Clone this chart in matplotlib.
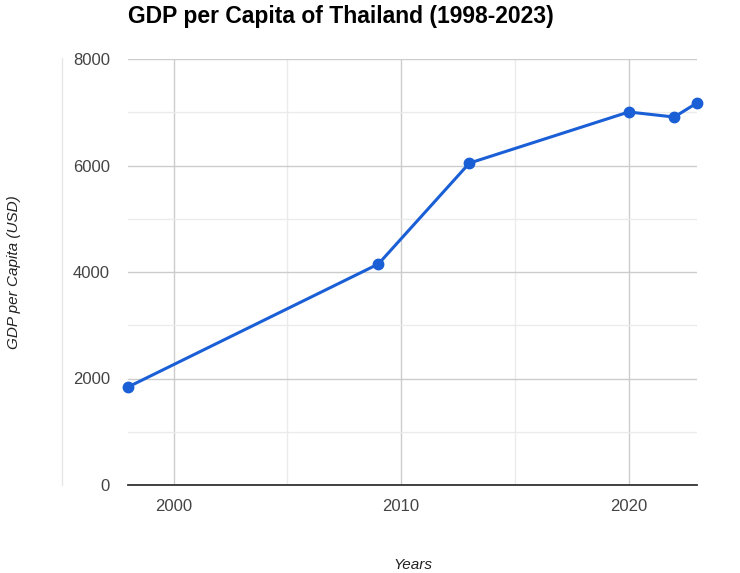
import matplotlib
matplotlib.use("Agg")
import matplotlib.pyplot as plt
from matplotlib.ticker import MultipleLocator
from matplotlib.lines import Line2D

years = [1998, 2009, 2013, 2020, 2022, 2023]
gdp = [1840, 4150, 6045, 7005, 6910, 7175]
xticks = [2000, 2010, 2020]
yticks = [0, 2000, 4000, 6000, 8000]

plt.rcParams['font.family'] = ['Liberation Sans', 'DejaVu Sans']

fig = plt.figure(figsize=(7.4, 5.73), dpi=100)
ax = fig.add_axes([128/740, 88/573, (697-128)/740, (485-59)/573])

ax.plot(years, gdp, color='#1a5fd6', lw=2.2, marker='o', ms=7.5, zorder=3, clip_on=False)

ax.set_xlim(1998, 2023)
ax.set_ylim(0, 8000)
ax.set_xticks(xticks)
ax.set_yticks(yticks)
ax.xaxis.set_minor_locator(MultipleLocator(5))
ax.yaxis.set_minor_locator(MultipleLocator(1000))
ax.grid(which='major', color='#cccccc', lw=1)
ax.grid(which='minor', color='#ebebeb', lw=1)
ax.set_axisbelow(True)
for s in ['top', 'right', 'left']:
    ax.spines[s].set_visible(False)
ax.spines['bottom'].set_color('#333333')
ax.spines['bottom'].set_linewidth(1.3)
ax.tick_params(which='both', length=0)
ax.tick_params(axis='x', pad=10, labelsize=12, labelcolor='#444444')
ax.tick_params(axis='y', pad=13, labelsize=12, labelcolor='#444444')

fig.text(128/740, 1-17/573, 'GDP per Capita of Thailand (1998-2023)', fontsize=16.5,
         fontweight='bold', ha='left', va='center', color='#000000')
fig.text(413/740, 1-565/573, 'Years', fontsize=11, style='italic', ha='center',
         va='center', color='#222222')
fig.text(14/740, 1-272/573, 'GDP per Capita (USD)', fontsize=11, style='italic',
         rotation=90, ha='center', va='center', color='#222222')
fig.add_artist(Line2D([62/740, 62/740], [1-58/573, 1-485/573], color='#e6e6e6', lw=1))

fig.savefig('out.png', dpi=100, facecolor='white')
